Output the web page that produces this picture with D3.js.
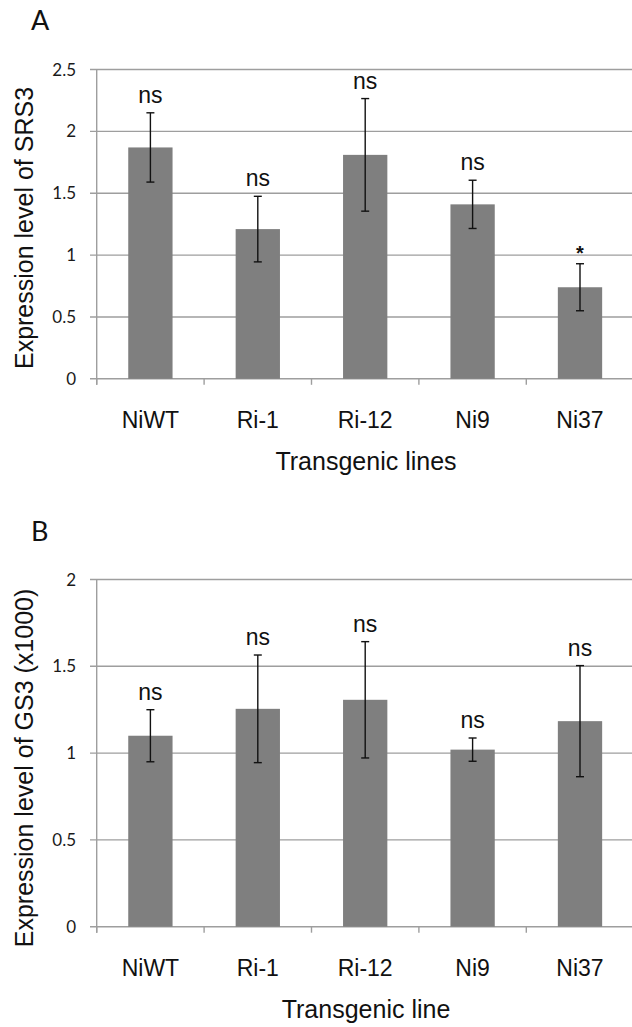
<!DOCTYPE html>
<html>
<head>
<meta charset="utf-8">
<script src="https://cdn.jsdelivr.net/npm/d3@7"></script>
<style>
  body { margin: 0; background: #fff; }
  .tick-label { font-family: Lato, "Open Sans", sans-serif; font-size: 17px; fill: #1a1a1a; }
  .cat-label, .axis-title, .sig { font-family: "Liberation Sans", Arial, sans-serif; fill: #111; }
  .panel-letter { font-family: Lato, "Open Sans", sans-serif; font-size: 27px; fill: #111; }
</style>
</head>
<body>
<div id="chart"></div>
<script>
// categories (transgenic lines)
var lines = ["NiWT", "Ri-1", "Ri-12", "Ni9", "Ni37"];

// panel A: SRS3 expression
var srs3Mean = [1.87, 1.21, 1.81, 1.41, 0.74];
var srs3Err = [0.28, 0.265, 0.455, 0.195, 0.19];
var srs3Sig = ["ns", "ns", "ns", "ns", "*"];
var srs3Ticks = [0, 0.5, 1, 1.5, 2, 2.5];

// panel B: GS3 expression (x1000)
var gs3Mean = [1.10, 1.255, 1.307, 1.02, 1.184];
var gs3Err = [0.15, 0.31, 0.335, 0.067, 0.32];
var gs3Sig = ["ns", "ns", "ns", "ns", "ns"];
var gs3Ticks = [0, 0.5, 1, 1.5, 2];

var svgWidth = 632;
var svgHeight = 1027;

var svg = d3.select("#chart")
    .append("svg")
    .attr("width", svgWidth)
    .attr("height", svgHeight);

var gridColor = "#9e9e9e";
var barColor = "#7f7f7f";

function drawPanel(opts) {
    var g = svg.append("g");

    var x = d3.scaleBand()
        .domain(lines)
        .range([96.7, 96.7 + 5 * 107.4])
        .paddingInner(0.5875)
        .paddingOuter(0.29375);

    var y = d3.scaleLinear()
        .domain([0, d3.max(opts.ticks)])
        .range([opts.bottom, opts.top]);

    // gridlines + left tick marks
    g.selectAll(".grid")
        .data(opts.ticks)
        .enter()
        .append("line")
        .attr("x1", 90)
        .attr("x2", svgWidth)
        .attr("y1", d => y(d))
        .attr("y2", d => y(d))
        .attr("stroke", gridColor)
        .attr("stroke-width", 1.4);

    // y axis line
    g.append("line")
        .attr("x1", x.range()[0]).attr("x2", x.range()[0])
        .attr("y1", y(d3.max(opts.ticks))).attr("y2", y(0) + 6)
        .attr("stroke", gridColor)
        .attr("stroke-width", 1.4);

    // tick marks under x axis at band boundaries
    var step = x.step();
    g.selectAll(".xtick")
        .data(d3.range(lines.length + 1))
        .enter()
        .append("line")
        .attr("x1", i => x.range()[0] + i * step)
        .attr("x2", i => x.range()[0] + i * step)
        .attr("y1", y(0))
        .attr("y2", y(0) + 6)
        .attr("stroke", gridColor)
        .attr("stroke-width", 1.4);

    // y tick labels
    g.selectAll(".tick-label")
        .data(opts.ticks)
        .enter()
        .append("text")
        .attr("class", "tick-label")
        .attr("x", 76)
        .attr("y", d => y(d) + 6)
        .attr("text-anchor", "end")
        .text(d => d);

    var rows = lines.map((c, i) => ({ cat: c, mean: opts.mean[i], err: opts.err[i], sig: opts.sig[i] }));

    // bars
    g.selectAll(".bar")
        .data(rows)
        .enter()
        .append("rect")
        .attr("x", d => x(d.cat))
        .attr("y", d => y(d.mean))
        .attr("width", x.bandwidth())
        .attr("height", d => y(0) - y(d.mean))
        .attr("fill", barColor);

    // error bars
    var eb = g.selectAll(".err")
        .data(rows)
        .enter()
        .append("g")
        .attr("transform", d => "translate(" + (x(d.cat) + x.bandwidth() / 2) + ",0)");

    eb.append("line")
        .attr("y1", d => y(d.mean + d.err))
        .attr("y2", d => y(d.mean - d.err))
        .attr("stroke", "#111").attr("stroke-width", 1.4);
    eb.append("line")
        .attr("x1", -4).attr("x2", 4)
        .attr("y1", d => y(d.mean + d.err)).attr("y2", d => y(d.mean + d.err))
        .attr("stroke", "#111").attr("stroke-width", 1.4);
    eb.append("line")
        .attr("x1", -4).attr("x2", 4)
        .attr("y1", d => y(d.mean - d.err)).attr("y2", d => y(d.mean - d.err))
        .attr("stroke", "#111").attr("stroke-width", 1.4);

    // significance labels
    eb.append("text")
        .attr("class", "sig")
        .attr("text-anchor", "middle")
        .attr("y", d => y(d.mean + d.err) - (d.sig == "*" ? 4 : 10))
        .style("font-size", d => d.sig == "*" ? "20px" : "23px")
        .style("font-weight", d => d.sig == "*" ? "bold" : "normal")
        .text(d => d.sig);

    // category labels
    g.selectAll(".cat-label")
        .data(lines)
        .enter()
        .append("text")
        .attr("class", "cat-label")
        .attr("x", d => x(d) + x.bandwidth() / 2)
        .attr("y", opts.bottom + 49)
        .attr("text-anchor", "middle")
        .style("font-size", "23px")
        .text(d => d);

    // axis titles
    g.append("text")
        .attr("class", "axis-title")
        .attr("transform", "translate(33," + opts.titleY + ") rotate(-90)")
        .attr("text-anchor", "middle")
        .style("font-size", "25px")
        .text(opts.yTitle);

    g.append("text")
        .attr("class", "axis-title")
        .attr("x", 366)
        .attr("y", opts.bottom + 91)
        .attr("text-anchor", "middle")
        .style("font-size", "25px")
        .text(opts.xTitle);

    g.append("text")
        .attr("class", "panel-letter")
        .attr("x", 31)
        .attr("y", opts.letterY)
        .text(opts.letter);
}

drawPanel({
    mean: srs3Mean, err: srs3Err, sig: srs3Sig, ticks: srs3Ticks,
    top: 69.5, bottom: 378.8, titleY: 228, letterY: 30, letter: "A",
    yTitle: "Expression level of SRS3", xTitle: "Transgenic lines"
});

drawPanel({
    mean: gs3Mean, err: gs3Err, sig: gs3Sig, ticks: gs3Ticks,
    top: 579.5, bottom: 926.7, titleY: 768, letterY: 541, letter: "B",
    yTitle: "Expression level of GS3 (x1000)", xTitle: "Transgenic line"
});
</script>
</body>
</html>
